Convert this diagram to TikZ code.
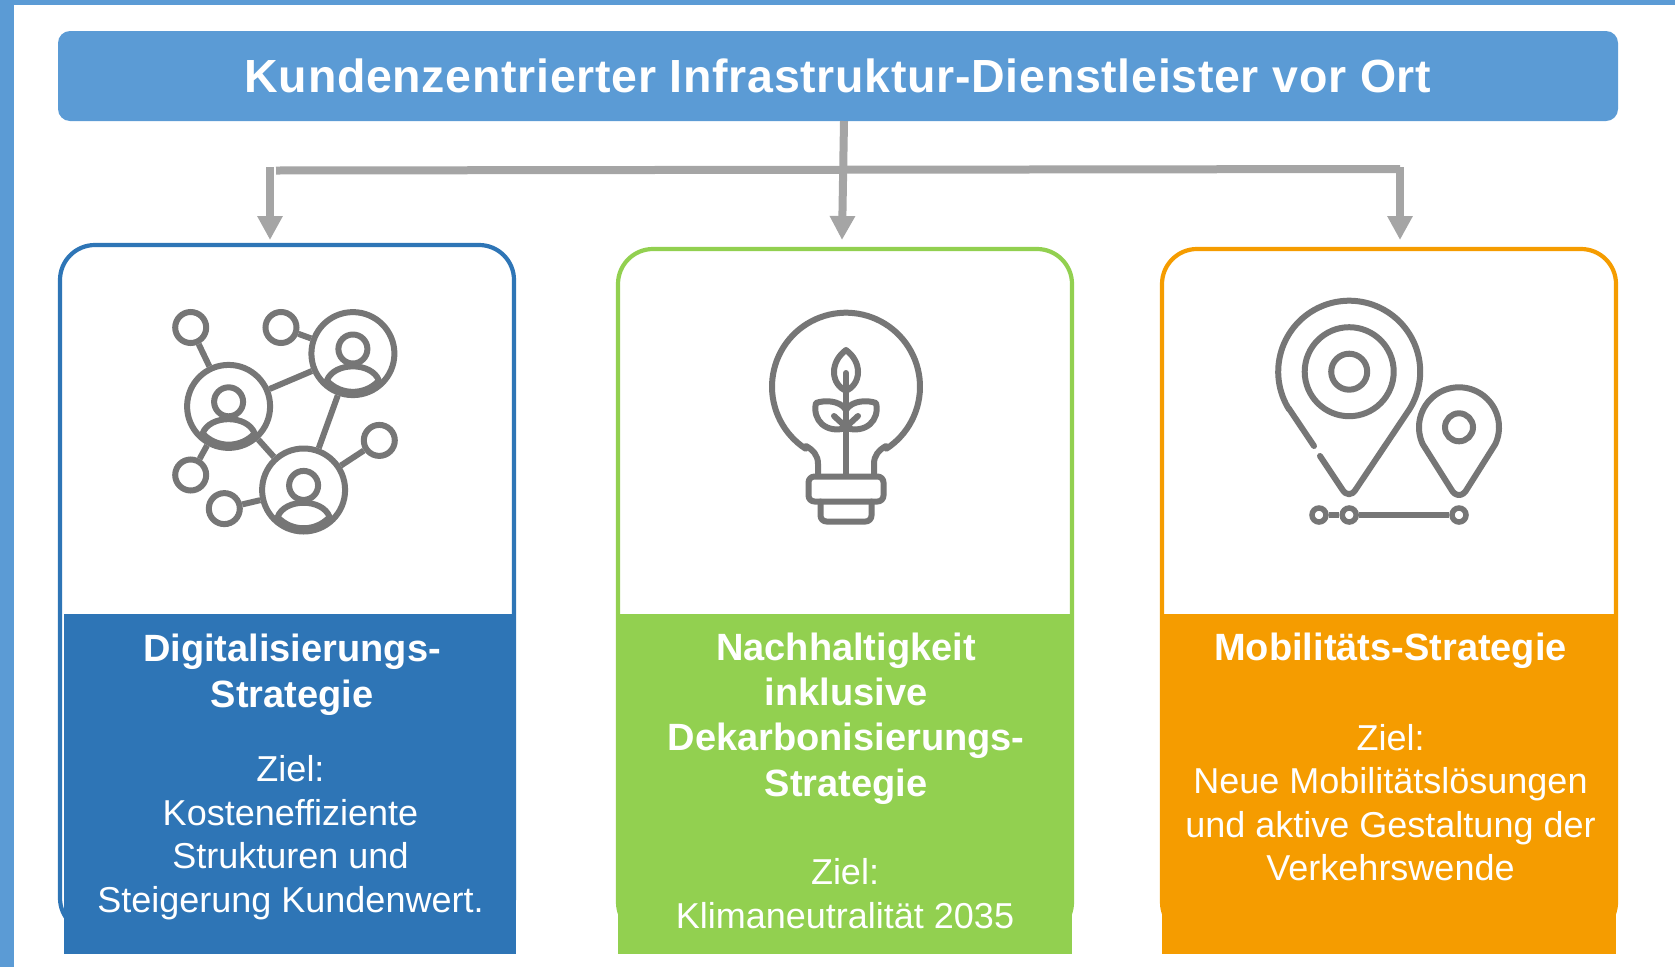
\documentclass[tikz,border=0pt]{standalone}
\usepackage{fontspec}
\setmainfont{Liberation Sans}
\usetikzlibrary{arrows.meta}
\definecolor{hdrblue}{HTML}{5B9BD5}
\definecolor{cardblue}{HTML}{2E75B6}
\definecolor{cardgreen}{HTML}{92D050}
\definecolor{cardorange}{HTML}{F59C00}
\definecolor{conngray}{HTML}{A5A5A5}
\definecolor{icongray}{HTML}{767676}
\tikzset{
  header/.style={fill=hdrblue,rounded corners=12pt,minimum width=1560pt,minimum height=90pt,inner sep=0pt,text=white,font=\bfseries\fontsize{46.5}{50}\selectfont},
  card/.style={draw=#1,fill=white,line width=4.2pt,rounded corners=35pt,minimum width=454pt,minimum height=688pt,inner sep=0pt},
  band/.style={fill=#1,minimum width=452pt,inner sep=0pt,anchor=north west},
  headtxt/.style={text=white,align=center,anchor=base,inner sep=0pt,font=\bfseries\fontsize{38}{45.3}\selectfont},
  bodytxt/.style={text=white,align=center,anchor=base,inner sep=0pt,font=\fontsize{36}{43.5}\selectfont},
  shaft/.style={draw=conngray,line width=8pt},
  connarrow/.style={shaft,-{Triangle[length=24pt,width=24pt,fill=conngray]}},
  ic/.style={draw=icongray,line width=6pt,line cap=round,line join=round},
  link/.style={draw=icongray,line width=6pt},
  bigdot/.style={circle,draw=icongray,line width=6pt,minimum size=83pt,inner sep=0pt},
  smalldot/.style={circle,draw=icongray,line width=6pt,minimum size=31pt,inner sep=0pt},
  tinydot/.style={circle,draw=icongray,line width=5.5pt,minimum size=14pt,inner sep=0pt},
  person/.pic={
    \draw[ic] (0,-4.6) circle[radius=14.5];
    \draw[ic] (-26,27) .. controls (-19,8) and (19,8) .. (26,27) .. controls (12,42) and (-12,42) .. (-26,27) -- cycle;
  }
}
\begin{document}
\begin{tikzpicture}[x=1pt,y=-1pt]
\useasboundingbox (0,0) rectangle (1675,967);
\fill[hdrblue] (0,0) rectangle (1675,4.6);
\fill[hdrblue] (0,0) rectangle (14,967);

% header
\node[header] (head) at (838,76) {\addfontfeature{LetterSpace=1.5}Kundenzentrierter Infrastruktur-Dienstleister vor Ort};

% cards
\node[card=cardblue] (card1) at (287,589) {};
\node[card=cardgreen] (card2) at (845,593) {};
\node[card=cardorange] (card3) at (1389,593) {};
\node[band=cardblue,minimum height=340pt] (band1) at (64,614) {};
\node[band=cardgreen,minimum height=340pt,minimum width=454pt] (band2) at (618,614) {};
\node[band=cardorange,minimum height=340pt,minimum width=454pt] (band3) at (1162,614) {};

% connectors
\coordinate (t1) at (270,240);
\coordinate (t2) at (842,240);
\coordinate (t3) at (1400,240);
\coordinate (a1) at (270,167);
\coordinate (c1) at (1400,167);
\coordinate (m0) at (844,121);
\coordinate (b1) at (276,170.5);
\coordinate (b2) at (1400,169);
\draw[shaft] (b1) -- (b2);
\draw[connarrow] (a1) -- (t1);
\draw[connarrow] (m0) -- (t2);
\draw[connarrow] (c1) -- (t3);

% texts
\node[headtxt] (h1) at (292,707) {Digitalisierungs-\\Strategie};
\node[bodytxt] (z1) at (290.5,912) {Ziel:\\Kosteneffiziente\\Strukturen und\\Steigerung Kundenwert.};
\node[headtxt] (h2) at (846,796) {Nachhaltigkeit\\inklusive\\Dekarbonisierungs-\\Strategie};
\node[bodytxt] (z2) at (845,928) {Ziel:\\Klimaneutralität 2035};
\node[headtxt] (h3) at (1390.5,660) {Mobilitäts-Strategie};
\node[bodytxt] (z3) at (1390.5,880.5) {Ziel:\\Neue Mobilitätslösungen\\und aktive Gestaltung der\\Verkehrswende};

% network icon
\node[bigdot] (p1) at (228.6,406.4) {};
\node[bigdot] (p2) at (352.9,353.6) {};
\node[bigdot] (p3) at (303.6,490) {};
\node[smalldot] (s1) at (190.7,327.5) {};
\node[smalldot] (s2) at (281,327.5) {};
\node[smalldot] (s3) at (379.3,440.4) {};
\node[smalldot] (s4) at (190.7,475) {};
\node[smalldot] (s5) at (224.3,508.6) {};
\pic at (228.6,406.4) {person};
\pic at (352.9,353.6) {person};
\pic at (303.6,490) {person};
\draw[link] (p1) -- (p2);
\draw[link] (p2) -- (p3);
\draw[link] (p1) -- (p3);
\draw[link] (s1) -- (p1);
\draw[link] (s2) -- (p2);
\draw[link] (s3) -- (p3);
\draw[link] (s4) -- (p1);
\draw[link] (s5) -- (p3);

% bulb icon
\draw[ic] (818,475) -- (818,464) .. controls (818,455) and (813,450) .. (806,446)
  -- plot[domain=123:417,samples=80] ({846+74*cos(\x)},{386.7+74*sin(\x)})
  -- (886,446) .. controls (879,450) and (874,455) .. (874,464) -- (874,475);
\draw[ic,rounded corners=6pt] (808.5,476.5) rectangle (883.5,501.5);
\draw[ic,rounded corners=6pt] (820.5,501.5) -- (820.5,521.5) -- (871.5,521.5) -- (871.5,501.5);
\draw[ic] (846,391) -- (846,475);
\draw[ic] (846,350) .. controls (838,356) and (834,364) .. (834,372) .. controls (834,382) and (840,388) .. (846,391) .. controls (852,388) and (858,382) .. (858,372) .. controls (858,364) and (854,356) .. (846,350) -- cycle;
\draw[ic] (846,373) -- (846,390);
\draw[ic] (846,428) .. controls (866,434) and (880,420) .. (876,403) .. controls (868,400) and (852,400) .. (846,410);
\draw[ic] (846,428) .. controls (826,434) and (812,420) .. (816,403) .. controls (824,400) and (840,400) .. (846,410);
\draw[ic] (846,427) -- (858,416);
\draw[ic] (846,427) -- (834,416);

% pin icon
\draw[ic] (1314,446) -- (1288.5,408) -- plot[domain=148:392,samples=80] ({1349.2+71*cos(\x)},{371.7+71*sin(\x)})
  -- (1356,489) .. controls (1352,496) and (1346,496) .. (1342,489) -- (1320,456);
\draw[ic] (1349.2,371.7) circle[radius=44.5];
\draw[ic] (1349.2,371.7) circle[radius=18];
\draw[ic] plot[domain=-205:25,samples=60] ({1459+40*cos(\x)},{427.3+40*sin(\x)})
  -- (1467,489) .. controls (1463,497) and (1455,497) .. (1451,489) -- cycle;
\draw[ic] (1459,427.3) circle[radius=14];
\node[tinydot] (r1) at (1319,515) {};
\node[tinydot] (r2) at (1349.2,515) {};
\node[tinydot] (r3) at (1459,515) {};
\draw[link] (r1) -- (r2);
\draw[link] (r2) -- (r3);
\end{tikzpicture}
\end{document}
